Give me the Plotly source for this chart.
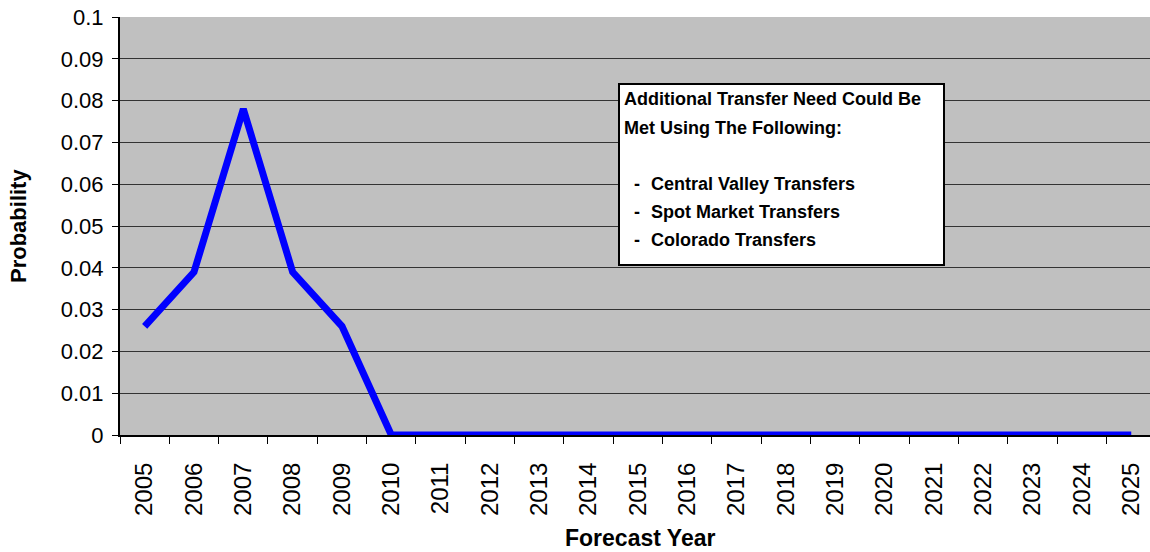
import plotly.graph_objects as go

years = [str(y) for y in range(2005, 2026)]
probability = [0.026, 0.039, 0.078, 0.039, 0.026] + [0.0] * 16

box_lines = ["Additional Transfer Need Could Be", "Met Using The Following:"]
bullets = ["Central Valley Transfers", "Spot Market Transfers", "Colorado Transfers"]
y_ticks = [0, 0.01, 0.02, 0.03, 0.04, 0.05, 0.06, 0.07, 0.08, 0.09, 0.1]
y_tick_labels = ["0", "0.01", "0.02", "0.03", "0.04", "0.05", "0.06", "0.07", "0.08", "0.09", "0.1"]

W, H = 1150, 552
L, R, T, B = 120, 1150, 17, 435
FONT = "Liberation Sans, Arial, sans-serif"


def px(x):
    return (x - L) / (R - L)


def py(y):
    return (B - y) / (B - T)


fig = go.Figure()
fig.add_trace(go.Scatter(
    x=years, y=probability, mode="lines",
    line=dict(color="#0000FF", width=7), showlegend=False, hoverinfo="skip",
))

shapes = [
    dict(type="rect", xref="paper", yref="paper",
         x0=px(619), x1=px(944), y0=py(265), y1=py(84),
         fillcolor="white", line=dict(color="black", width=2), layer="above"),
]

annotations = []
for i, t in enumerate(box_lines):
    annotations.append(dict(xref="paper", yref="paper", x=px(622), y=py(99 + 29 * i),
                            text="<b>" + t + "</b>", showarrow=False,
                            xanchor="left", yanchor="middle",
                            font=dict(family=FONT, size=18, color="black")))
for i, t in enumerate(bullets):
    yy = py(184 + 28 * i)
    annotations.append(dict(xref="paper", yref="paper", x=px(632), y=yy,
                            text="<b>-</b>", showarrow=False,
                            xanchor="left", yanchor="middle",
                            font=dict(family=FONT, size=18, color="black")))
    annotations.append(dict(xref="paper", yref="paper", x=px(649), y=yy,
                            text="<b>" + t + "</b>", showarrow=False,
                            xanchor="left", yanchor="middle",
                            font=dict(family=FONT, size=18, color="black")))

annotations.append(dict(xref="paper", yref="paper", x=px(18), y=py(226),
                        text="<b>Probability</b>", textangle=-90, showarrow=False,
                        xanchor="center", yanchor="middle",
                        font=dict(family=FONT, size=22, color="black")))
annotations.append(dict(xref="paper", yref="paper", x=px(640), y=py(538),
                        text="<b>Forecast Year</b>", showarrow=False,
                        xanchor="center", yanchor="middle",
                        font=dict(family=FONT, size=23, color="black")))

fig.update_layout(
    width=W, height=H,
    margin=dict(l=L, r=W - R, t=T, b=H - B),
    paper_bgcolor="white", plot_bgcolor="#C0C0C0",
    shapes=shapes, annotations=annotations,
    font=dict(family=FONT, color="black"),
    xaxis=dict(
        type="category", range=[-0.5, 20.38], tickson="boundaries",
        ticks="outside", ticklen=7, tickcolor="black", tickwidth=1,
        tickangle=-90, tickfont=dict(size=24, family=FONT),
        ticklabelstandoff=16,
        showline=True, linecolor="black", linewidth=2, showgrid=False,
        zeroline=False, fixedrange=True,
    ),
    yaxis=dict(
        range=[0, 0.1], tickvals=y_ticks, ticktext=y_tick_labels,
        ticks="outside", ticklen=6, tickcolor="black", tickwidth=1,
        tickfont=dict(size=22, family=FONT), ticklabelstandoff=4,
        showline=True, linecolor="black", linewidth=2,
        showgrid=True, gridcolor="#333333", gridwidth=1,
        zeroline=False, fixedrange=True,
    ),
)

fig.write_html("out.html")
